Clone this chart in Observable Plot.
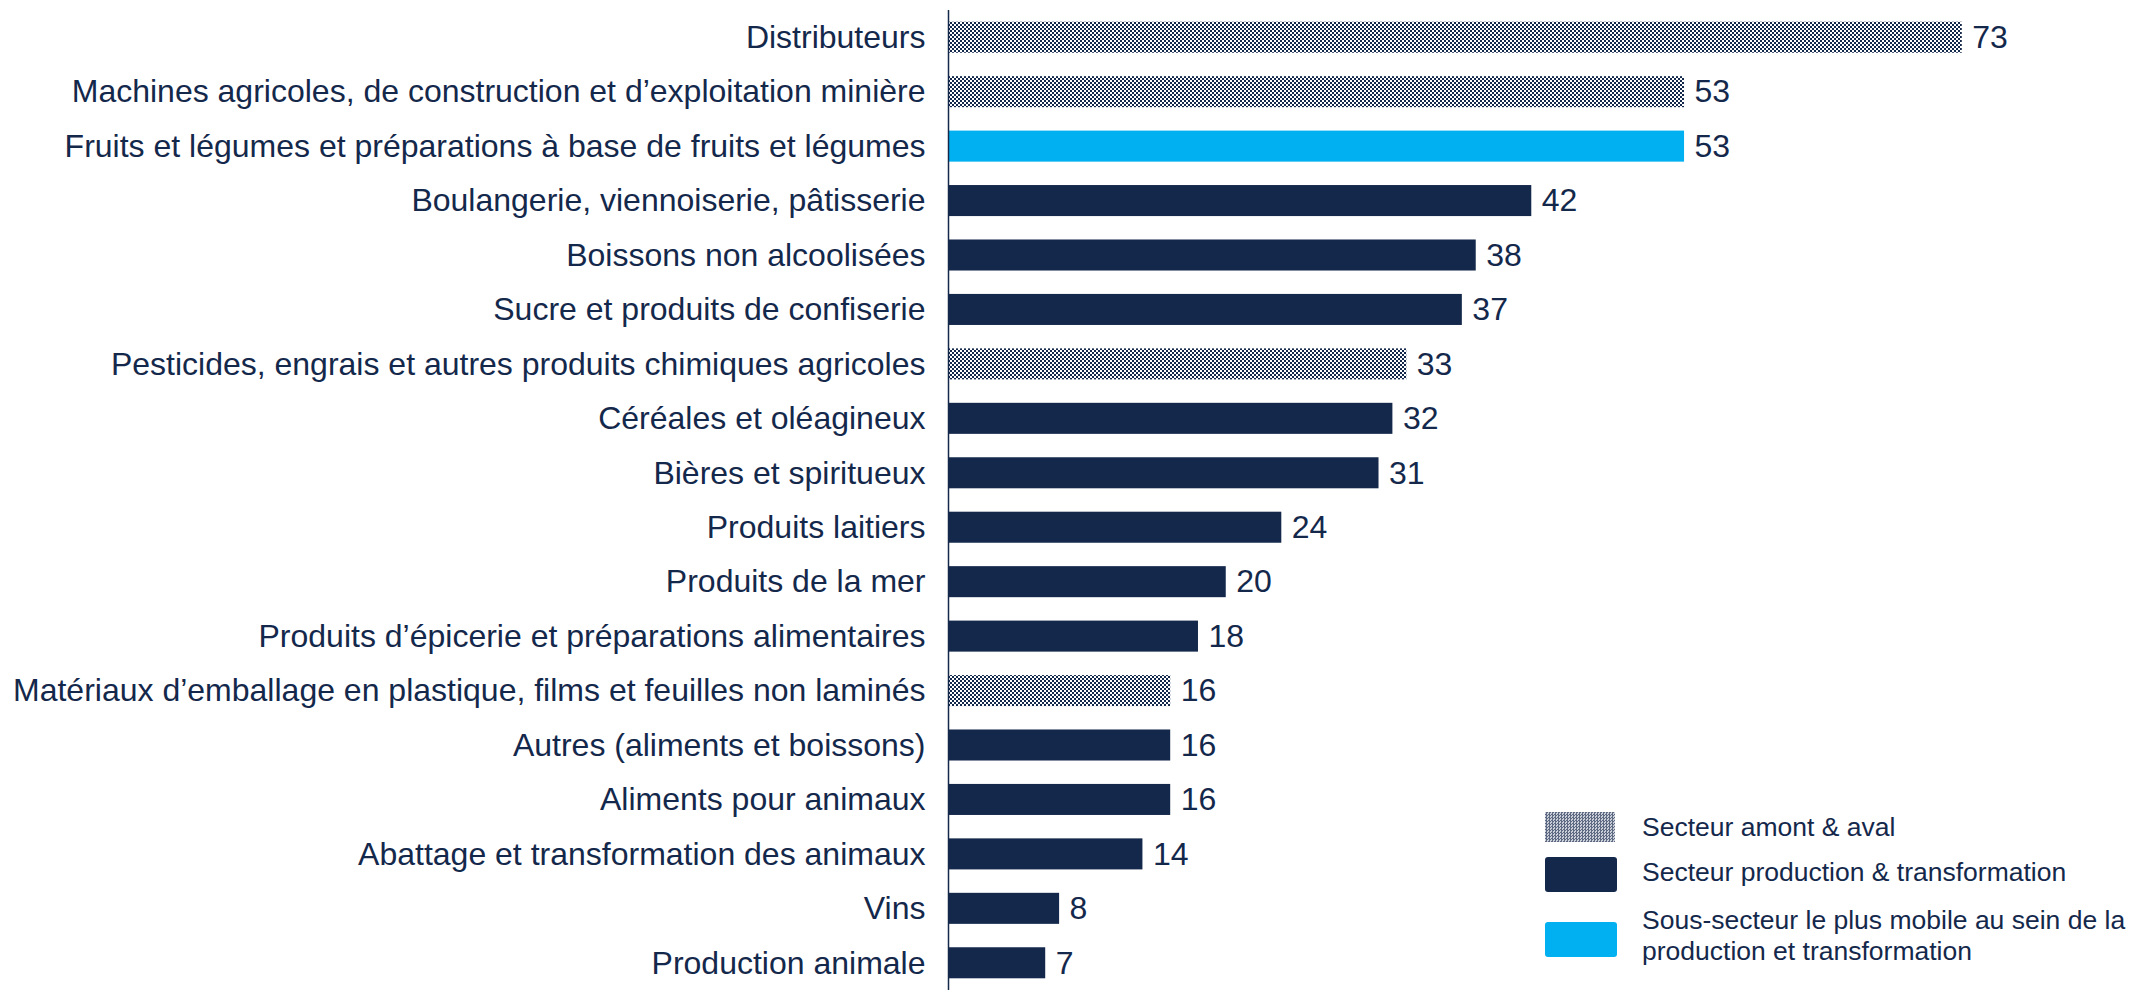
<!DOCTYPE html>
<html>
<head>
<meta charset="utf-8">
<script src="https://cdn.jsdelivr.net/npm/d3@7"></script>
<script src="https://cdn.jsdelivr.net/npm/@observablehq/plot@0.6"></script>
<style>
  html, body { margin: 0; padding: 0; background: #fff; }
  #wrap { position: relative; width: 2151px; height: 996px; font-family: "Liberation Sans", Arial, sans-serif; color: #14284b; }
  #legend { position: absolute; left: 1545px; top: 812px; font-size: 26.5px; line-height: 31px; }
  .sw { position: absolute; left: 0; }
  .lbl { position: absolute; left: 97px; }
</style>
</head>
<body>
<svg width="0" height="0" style="position:absolute">
  <defs>
    <pattern id="checker" patternUnits="userSpaceOnUse" width="4" height="4">
      <rect width="4" height="4" fill="#ffffff"></rect>
      <rect x="0" y="0" width="2" height="2" fill="#14284b"></rect>
      <rect x="2" y="2" width="2" height="2" fill="#14284b"></rect>
    </pattern>
  </defs>
</svg>
<div id="wrap">
  <div id="chart"></div>
  <div id="legend"></div>
</div>
<script>
const categories = [
  "Distributeurs",
  "Machines agricoles, de construction et d’exploitation minière",
  "Fruits et légumes et préparations à base de fruits et légumes",
  "Boulangerie, viennoiserie, pâtisserie",
  "Boissons non alcoolisées",
  "Sucre et produits de confiserie",
  "Pesticides, engrais et autres produits chimiques agricoles",
  "Céréales et oléagineux",
  "Bières et spiritueux",
  "Produits laitiers",
  "Produits de la mer",
  "Produits d’épicerie et préparations alimentaires",
  "Matériaux d’emballage en plastique, films et feuilles non laminés",
  "Autres (aliments et boissons)",
  "Aliments pour animaux",
  "Abattage et transformation des animaux",
  "Vins",
  "Production animale"
];
const values = [73, 53, 53, 42, 38, 37, 33, 32, 31, 24, 20, 18, 16, 16, 16, 14, 8, 7];
const groups = ["amont", "amont", "mobile", "prod", "prod", "prod", "amont", "prod", "prod", "prod", "prod", "prod", "amont", "prod", "prod", "prod", "prod", "prod"];
const groupLabels = ["Secteur amont & aval", "Secteur production & transformation", "Sous-secteur le plus mobile au sein de la production et transformation"];
const groupKeys = ["amont", "prod", "mobile"];

const navy = "#14284b";
const cyan = "#00b0f0";
const fills = {amont: "url(#checker)", prod: navy, mobile: cyan};

const data = categories.map((c, i) => ({cat: c, value: values[i], group: groups[i]}));

const chart = Plot.plot({
  width: 2151,
  height: 996,
  marginLeft: 948,
  marginRight: 92,
  marginTop: 10,
  marginBottom: 6,
  style: {fontFamily: "'Liberation Sans', Arial, sans-serif", color: navy, background: "#fff"},
  x: {domain: [0, 80], axis: null},
  y: {domain: categories, paddingInner: 0.43, paddingOuter: 0.215, round: false, axis: null},
  marks: [
    ...groupKeys.map(g => Plot.barX(data.filter(d => d.group === g), {x: "value", y: "cat", fill: fills[g]})),
    Plot.axisY({tickSize: 0, tickPadding: 23, fontSize: 32, label: null}),
    Plot.text(data, {x: "value", y: "cat", text: d => String(d.value), dx: 10, textAnchor: "start", fontSize: 32, fill: navy}),
    Plot.ruleX([0], {stroke: navy, strokeWidth: 1.5})
  ]
});
document.getElementById("chart").appendChild(chart);

// Legend
const legend = document.getElementById("legend");
const swatchStyles = [
  {top: 0, h: 30, w: 70, pat: true},
  {top: 45, h: 35, w: 72, bg: navy, r: 3},
  {top: 110, h: 35, w: 72, bg: cyan, r: 3}
];
const labelTops = [0, 45, 93];
groupKeys.forEach((g, i) => {
  const s = swatchStyles[i];
  const sw = document.createElement("div");
  sw.className = "sw";
  sw.style.top = s.top + "px";
  sw.style.width = s.w + "px";
  sw.style.height = s.h + "px";
  sw.style.borderRadius = (s.r || 0) + "px";
  if (s.pat) {
    sw.style.background = "repeating-conic-gradient(#5d6a82 0 25%, #c9ced8 0 50%) 0 0 / 3px 3px";
  } else {
    sw.style.background = s.bg;
  }
  legend.appendChild(sw);
  const lb = document.createElement("div");
  lb.className = "lbl";
  lb.style.top = labelTops[i] + "px";
  lb.style.whiteSpace = "nowrap";
  if (g === "mobile") {
    lb.innerHTML = "Sous-secteur le plus mobile au sein de la<br>production et transformation";
  } else {
    lb.textContent = groupLabels[i];
  }
  legend.appendChild(lb);
});
</script>
</body>
</html>
